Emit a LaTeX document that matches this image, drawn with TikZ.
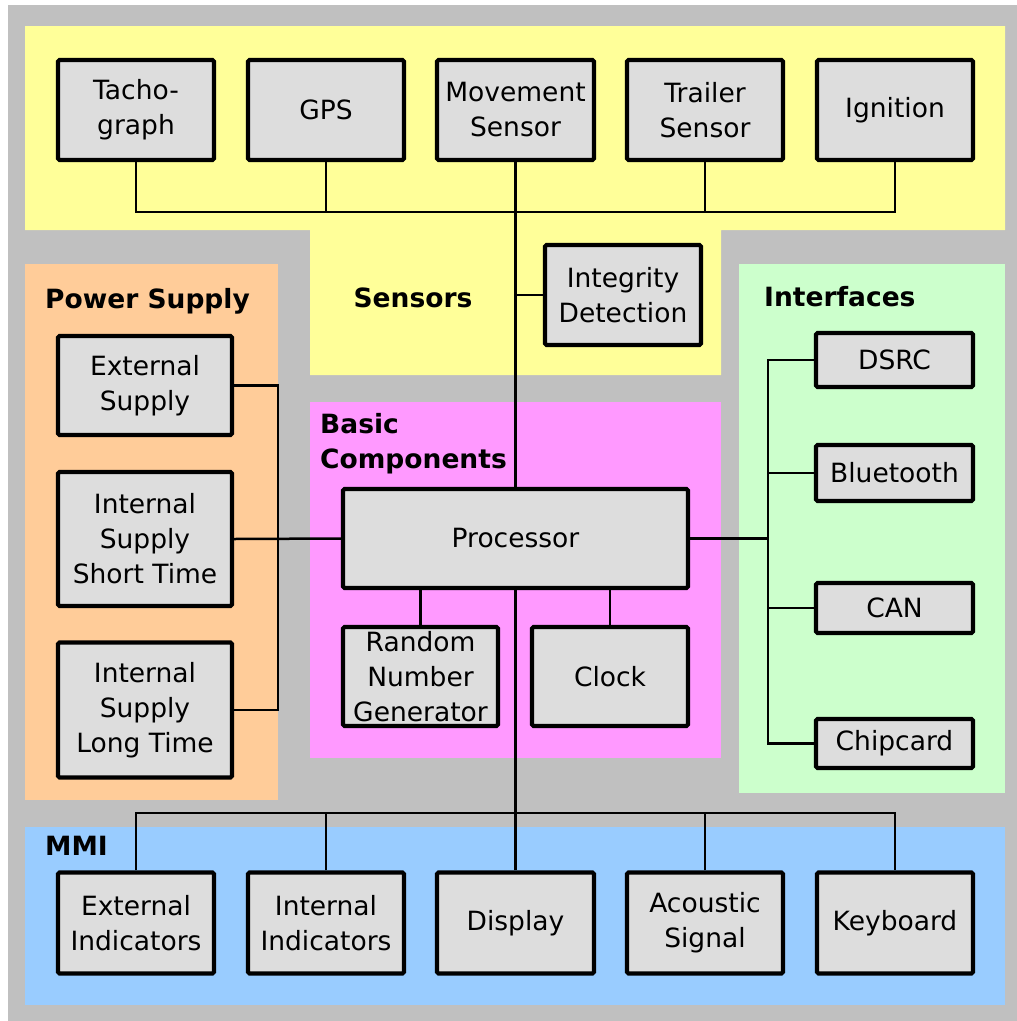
\documentclass[tikz,border=0pt]{standalone}
\usepackage{fontspec}
\setmainfont{DejaVu Sans}
\definecolor{bgray}{HTML}{C0C0C0}
\definecolor{sens}{HTML}{FFFF99}
\definecolor{pow}{HTML}{FFCC99}
\definecolor{basic}{HTML}{FF99FF}
\definecolor{intf}{HTML}{CCFFCC}
\definecolor{mmi}{HTML}{99CCFF}
\definecolor{boxfill}{HTML}{DDDDDD}
\tikzset{
  blk/.style={draw=black, line width=4.2pt, fill=boxfill, rounded corners=1.5pt, align=center,
    font=\fontsize{26.5}{35}\selectfont, inner sep=0pt},
  wire/.style={line width=2.5pt, line cap=butt},
  grp/.style={font=\fontsize{26.5}{35}\selectfont\bfseries, inner sep=0pt, align=left},
}
\begin{document}
\begin{tikzpicture}[x=1pt,y=-1pt]
\useasboundingbox (0,0) rectangle (1017,1021);
\fill[white] (0,0) rectangle (1017,1021);
\fill[bgray] (8,5) rectangle (1017,1021);
% regions
\fill[sens] (25,26) -- (1005,26) -- (1005,230) -- (721,230) -- (721,375) -- (310,375) -- (310,230) -- (25,230) -- cycle;
\fill[pow] (25,264) rectangle (278,800);
\fill[basic] (310,402) rectangle (721,758);
\fill[intf] (739,264) rectangle (1005,793);
\fill[mmi] (25,827) rectangle (1005,1005);
% group labels
\node[grp, anchor=center] (lsens) at (413,298) {Sensors};
\node[grp, anchor=west] (lpow) at (45,301) {Power Supply};
\node[grp, anchor=west] (lintf) at (764,297) {Interfaces};
\node[grp, anchor=north west] (lbasic) at (320,413) {Basic\\Components};
\node[grp, anchor=west] (lmmi) at (45,846) {MMI};
% sensors
\node[blk, minimum width=156pt, minimum height=100pt] (tacho) at (136,110) {Tacho-\\graph};
\node[blk, minimum width=156pt, minimum height=100pt] (gps) at (326,110) {GPS};
\node[blk, minimum width=157pt, minimum height=100pt] (move) at (515.5,110) {Movement\\Sensor};
\node[blk, minimum width=156pt, minimum height=100pt] (trail) at (705,110) {Trailer\\Sensor};
\node[blk, minimum width=156pt, minimum height=100pt] (ign) at (895,110) {Ignition};
\node[blk, minimum width=156pt, minimum height=100pt] (integ) at (623,295) {Integrity\\Detection};
% power
\node[blk, minimum width=174pt, minimum height=99pt] (ext) at (145,385.5) {External\\Supply};
\node[blk, minimum width=174pt, minimum height=134pt] (ishort) at (145,539) {Internal\\Supply\\Short Time};
\node[blk, minimum width=174pt, minimum height=135pt] (ilong) at (145,710) {Internal\\Supply\\Long Time};
% basic
\node[blk, minimum width=345pt, minimum height=99pt] (proc) at (515.5,538.5) {Processor};
\node[blk, minimum width=155pt, minimum height=99pt] (rng) at (420.5,676.5) {Random\\Number\\Generator};
\node[blk, minimum width=156pt, minimum height=99pt] (clock) at (610,676.5) {Clock};
% interfaces
\node[blk, minimum width=157pt, minimum height=54pt] (dsrc) at (894.5,360) {DSRC};
\node[blk, minimum width=157pt, minimum height=56pt] (bt) at (894.5,473) {Bluetooth};
\node[blk, minimum width=157pt, minimum height=50pt] (can) at (894.5,608) {CAN};
\node[blk, minimum width=157pt, minimum height=49pt] (chip) at (894.5,743.5) {Chipcard};
% mmi
\node[blk, minimum width=156pt, minimum height=101pt] (exti) at (136,923) {External\\Indicators};
\node[blk, minimum width=156pt, minimum height=101pt] (inti) at (326,923) {Internal\\Indicators};
\node[blk, minimum width=157pt, minimum height=101pt] (disp) at (515.5,923) {Display};
\node[blk, minimum width=156pt, minimum height=101pt] (acou) at (705,923) {Acoustic\\Signal};
\node[blk, minimum width=156pt, minimum height=101pt] (keyb) at (895,923) {Keyboard};
% bus coordinates
\coordinate (sbus) at (0,212);
\coordinate (mbus) at (0,813);
\coordinate (ibus) at (768,0);
\coordinate (pbus) at (278,0);
% sensor bus
\draw[wire] (tacho.south) -- (tacho.south |- sbus) -- (ign.south |- sbus) -- (ign.south);
\draw[wire] (gps.south) -- (gps.south |- sbus);
\draw[wire] (trail.south) -- (trail.south |- sbus);
\draw[wire] (move.south) -- (proc.north);
\draw[wire] (integ.west) -- (integ.west -| move.south);
% power bus
\draw[wire] (ext.east) -- (ext.east -| pbus) -- (ilong.east -| pbus) -- (ilong.east);
\draw[wire] (ishort.east) -- (proc.west);
% basic
\draw[wire] (rng.north) -- (rng.north |- proc.south);
\draw[wire] (clock.north) -- (clock.north |- proc.south);
% interfaces
\draw[wire] (proc.east) -- (proc.east -| ibus);
\draw[wire] (dsrc.west) -- (dsrc.west -| ibus) -- (chip.west -| ibus) -- (chip.west);
\draw[wire] (bt.west) -- (bt.west -| ibus);
\draw[wire] (can.west) -- (can.west -| ibus);
% mmi
\draw[wire] (proc.south) -- (proc.south |- mbus);
\draw[wire] (exti.north) -- (exti.north |- mbus) -- (keyb.north |- mbus) -- (keyb.north);
\draw[wire] (inti.north) -- (inti.north |- mbus);
\draw[wire] (disp.north) -- (disp.north |- mbus);
\draw[wire] (acou.north) -- (acou.north |- mbus);
\end{tikzpicture}
\end{document}
